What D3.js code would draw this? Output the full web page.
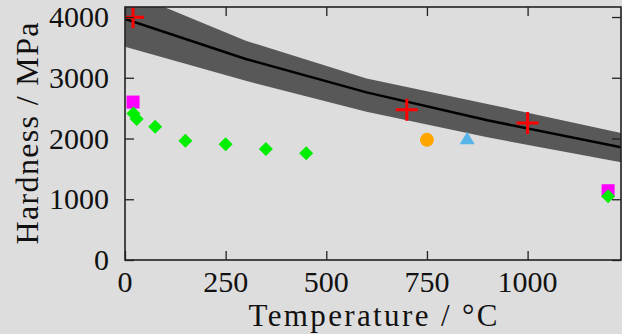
<!DOCTYPE html>
<html lang="en">
	<head>
		<meta charset="utf-8">
		<title>Hardness vs temperature</title>
		<script type="text/javascript" src="https://d3js.org/d3.v7.min.js"></script>
		<style type="text/css">
			body { margin: 0; background: #dddddd; }
			svg { display: block; }
			text { font-family: "Liberation Serif", "DejaVu Serif", serif; fill: #111; }
		</style>
	</head>
	<body>
		<script type="text/javascript">

			//Width and height
			var w = 622;
			var h = 334;

			//model curve with its band
			var modelT = [0, 300, 600, 900, 1232];
			var modelMid = [3970, 3310, 2760, 2300, 1855];
			var modelHigh = [4430, 3610, 2990, 2570, 2090];
			var modelLow = [3510, 2950, 2440, 2020, 1610];

			//measured points, one pair of arrays per marker
			var crossT = [20, 700, 1000];
			var crossH = [3995, 2475, 2255];
			var squareT = [20, 1200];
			var squareH = [2600, 1140];
			var diamondT = [21, 29, 75, 150, 250, 350, 450, 1200];
			var diamondH = [2410, 2320, 2195, 1965, 1905, 1827, 1758, 1050];
			var circleT = [750];
			var circleH = [1978];
			var triangleT = [850];
			var triangleH = [1995];

			var xTicks = [0, 250, 500, 750, 1000];
			var yTicks = [0, 1000, 2000, 3000, 4000];

			//plot box (note: "top" is taken by window.top, so p-prefixed names)
			var pLeft = 125, pRight = 621, pTop = 7, pBottom = 260;

			var x = d3.scaleLinear().domain([0, 1232]).range([pLeft, pRight]);
			var y = d3.scaleLinear().domain([0, 4165]).range([pBottom, pTop]);

			var svg = d3.select("body")
						.append("svg")
						.attr("width", w)
						.attr("height", h);

			svg.append("clipPath").attr("id", "plot")
				.append("rect")
				.attr("x", pLeft).attr("y", pTop)
				.attr("width", pRight - pLeft).attr("height", pBottom - pTop);

			var g = svg.append("g").attr("clip-path", "url(#plot)");

			var band = modelT.map(function(t, i) {
				return { t: t, lo: modelLow[i], hi: modelHigh[i], mid: modelMid[i] };
			});

			g.append("path")
				.datum(band)
				.attr("fill", "#585858")
				.attr("d", d3.area()
					.x(function(d) { return x(d.t); })
					.y0(function(d) { return y(d.lo); })
					.y1(function(d) { return y(d.hi); }));

			g.append("path")
				.datum(band)
				.attr("fill", "none")
				.attr("stroke", "#000")
				.attr("stroke-width", 2.5)
				.attr("d", d3.line()
					.x(function(d) { return x(d.t); })
					.y(function(d) { return y(d.mid); }));

			//points
			function pairs(ts, hs) {
				return ts.map(function(t, i) { return [t, hs[i]]; });
			}

			g.selectAll(".sq")
				.data(pairs(squareT, squareH))
				.enter().append("rect")
				.attr("x", function(d) { return x(d[0]) - 6.5; })
				.attr("y", function(d) { return y(d[1]) - 6.5; })
				.attr("width", 13).attr("height", 13)
				.attr("fill", "#ff00ff");

			g.selectAll(".dia")
				.data(pairs(diamondT, diamondH))
				.enter().append("path")
				.attr("transform", function(d) { return "translate(" + x(d[0]) + "," + y(d[1]) + ")"; })
				.attr("d", "M0,-7L7,0L0,7L-7,0Z")
				.attr("fill", "#00ee00");

			g.selectAll(".circ")
				.data(pairs(circleT, circleH))
				.enter().append("circle")
				.attr("cx", function(d) { return x(d[0]); })
				.attr("cy", function(d) { return y(d[1]); })
				.attr("r", 7)
				.attr("fill", "#ffa500");

			g.selectAll(".tri")
				.data(pairs(triangleT, triangleH))
				.enter().append("path")
				.attr("transform", function(d) { return "translate(" + x(d[0]) + "," + y(d[1]) + ")"; })
				.attr("d", "M0,-7L7.5,5.5L-7.5,5.5Z")
				.attr("fill", "#56b4e9");

			g.selectAll(".cross")
				.data(pairs(crossT, crossH))
				.enter().append("path")
				.attr("transform", function(d) { return "translate(" + x(d[0]) + "," + y(d[1]) + ")"; })
				.attr("d", "M-11,0H11M0,-11V11")
				.attr("stroke", "#ff0000")
				.attr("stroke-width", 3)
				.attr("fill", "none");

			//axes, ticks inward on all four sides
			var tickColor = "#222";
			function axisTicks(axis, scale, values, len) {
				return axis(scale).tickValues(values).tickSize(len).tickFormat("");
			}
			var xMinor = d3.range(0, 1232, 25);
			var yMinor = d3.range(0, 4165, 100);

			var bottomG = svg.append("g").attr("transform", "translate(0," + pBottom + ")");
			bottomG.call(axisTicks(d3.axisTop, x, xMinor, 5));
			bottomG.call(axisTicks(d3.axisTop, x, xTicks, 9));
			var topG = svg.append("g").attr("transform", "translate(0," + pTop + ")");
			topG.call(axisTicks(d3.axisBottom, x, xMinor, 5));
			topG.call(axisTicks(d3.axisBottom, x, xTicks, 9));
			var leftG = svg.append("g").attr("transform", "translate(" + pLeft + ",0)");
			leftG.call(axisTicks(d3.axisRight, y, yMinor, 5));
			leftG.call(axisTicks(d3.axisRight, y, yTicks, 9));
			var rightG = svg.append("g").attr("transform", "translate(" + pRight + ",0)");
			rightG.call(axisTicks(d3.axisLeft, y, yMinor, 5));
			rightG.call(axisTicks(d3.axisLeft, y, yTicks, 9));

			svg.selectAll(".domain").remove();
			svg.selectAll(".tick line").attr("stroke", tickColor).attr("stroke-width", 1.3);

			svg.append("rect")
				.attr("x", pLeft).attr("y", pTop)
				.attr("width", pRight - pLeft).attr("height", pBottom - pTop)
				.attr("fill", "none")
				.attr("stroke", tickColor)
				.attr("stroke-width", 1.6);

			//tick labels
			svg.selectAll(".xl")
				.data(xTicks)
				.enter().append("text")
				.attr("x", function(d) { return x(d); })
				.attr("y", 292)
				.attr("text-anchor", "middle")
				.attr("font-size", 30)
				.text(function(d) { return d; });

			svg.selectAll(".yl")
				.data(yTicks)
				.enter().append("text")
				.attr("x", 109)
				.attr("y", function(d) { return y(d) + 10; })
				.attr("text-anchor", "end")
				.attr("font-size", 30)
				.text(function(d) { return d; });

			//axis titles
			svg.append("text")
				.attr("x", (pLeft + pRight) / 2)
				.attr("y", 326)
				.attr("text-anchor", "middle")
				.attr("font-size", 31)
				.attr("textLength", 249)
				.text("Temperature / °C");

			svg.append("text")
				.attr("transform", "translate(38," + ((pTop + pBottom) / 2) + ") rotate(-90)")
				.attr("text-anchor", "middle")
				.attr("font-size", 32)
				.attr("textLength", 222)
				.text("Hardness / MPa");

		</script>
	</body>
</html>
